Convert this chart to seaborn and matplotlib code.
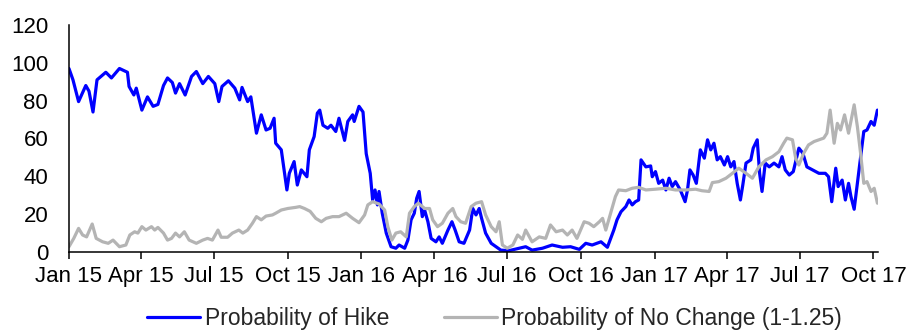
import matplotlib
matplotlib.use('Agg')
import matplotlib.pyplot as plt
import matplotlib.dates as mdates
import seaborn as sns
import pandas as pd

# Probability of Hike (blue)
hike_dates = [
    "2015-01-01", "2015-01-06", "2015-01-13", "2015-01-22", "2015-01-26", "2015-01-31",
    "2015-02-05", "2015-02-16", "2015-02-23", "2015-03-05", "2015-03-15", "2015-03-17",
    "2015-03-23", "2015-03-26", "2015-04-02", "2015-04-09", "2015-04-16", "2015-04-22",
    "2015-04-29", "2015-05-04", "2015-05-10", "2015-05-14", "2015-05-19", "2015-05-26",
    "2015-06-03", "2015-06-09", "2015-06-17", "2015-06-24", "2015-07-02", "2015-07-07",
    "2015-07-11", "2015-07-19", "2015-07-27", "2015-08-02", "2015-08-05", "2015-08-12",
    "2015-08-16", "2015-08-23", "2015-08-29", "2015-09-04", "2015-09-09", "2015-09-14",
    "2015-09-16", "2015-09-23", "2015-09-30", "2015-10-03", "2015-10-09", "2015-10-13",
    "2015-10-18", "2015-10-25", "2015-10-28", "2015-11-03", "2015-11-07", "2015-11-10",
    "2015-11-14", "2015-11-20", "2015-11-24", "2015-11-30", "2015-12-04", "2015-12-11",
    "2015-12-15", "2015-12-21", "2015-12-23", "2015-12-29", "2016-01-03", "2016-01-07",
    "2016-01-12", "2016-01-15", "2016-01-18", "2016-01-21", "2016-01-23", "2016-01-27",
    "2016-02-01", "2016-02-07", "2016-02-13", "2016-02-17", "2016-02-24", "2016-02-28",
    "2016-03-03", "2016-03-07", "2016-03-10", "2016-03-13", "2016-03-17", "2016-03-20",
    "2016-03-24", "2016-03-28", "2016-04-03", "2016-04-07", "2016-04-11", "2016-04-18",
    "2016-04-23", "2016-04-27", "2016-05-02", "2016-05-08", "2016-05-15", "2016-05-19",
    "2016-05-23", "2016-05-27", "2016-05-30", "2016-06-04", "2016-06-11", "2016-06-17",
    "2016-06-23", "2016-07-03", "2016-07-16", "2016-07-24", "2016-08-01", "2016-08-14",
    "2016-08-26", "2016-09-08", "2016-09-18", "2016-09-29", "2016-10-07", "2016-10-15",
    "2016-10-26", "2016-11-03", "2016-11-11", "2016-11-15", "2016-11-20", "2016-11-26",
    "2016-11-30", "2016-12-04", "2016-12-08", "2016-12-12", "2016-12-15", "2016-12-21",
    "2016-12-27", "2016-12-29", "2017-01-02", "2017-01-06", "2017-01-11", "2017-01-15",
    "2017-01-19", "2017-01-23", "2017-01-27", "2017-02-02", "2017-02-08", "2017-02-11",
    "2017-02-14", "2017-02-18", "2017-02-22", "2017-02-27", "2017-03-04", "2017-03-08",
    "2017-03-12", "2017-03-16", "2017-03-20", "2017-03-24", "2017-03-29", "2017-04-02",
    "2017-04-06", "2017-04-10", "2017-04-14", "2017-04-18", "2017-04-21", "2017-04-25",
    "2017-05-01", "2017-05-04", "2017-05-09", "2017-05-12", "2017-05-15", "2017-05-19",
    "2017-05-24", "2017-05-30", "2017-06-05", "2017-06-09", "2017-06-13", "2017-06-18",
    "2017-06-23", "2017-06-30", "2017-07-05", "2017-07-10", "2017-07-17", "2017-07-25",
    "2017-08-02", "2017-08-06", "2017-08-10", "2017-08-15", "2017-08-18", "2017-08-23",
    "2017-08-27", "2017-08-31", "2017-09-03", "2017-09-07", "2017-09-11", "2017-09-15",
    "2017-09-19", "2017-09-23", "2017-09-28", "2017-10-02", "2017-10-06",
]
hike_values = [
    97, 91, 79.5, 88, 85, 74,
    91, 95, 92, 97, 95, 87.5,
    83, 86.6, 75, 82, 77, 78,
    88, 92, 89.6, 84, 89, 83,
    92.8, 95.4, 89, 92.8, 89, 79.5,
    87.5, 90.5, 86.6, 80.4, 87, 79.5,
    82, 62.8, 72.5, 64.5, 65.4, 70.7,
    57.5, 54, 32.8, 41.6, 47.8, 35.4,
    43.4, 39.8, 54, 61, 73.4, 75,
    67, 65.4, 67, 63.7, 70.7, 59,
    69, 72.5, 69, 77, 74, 52,
    41.6, 27.5, 32.8, 24.9, 32, 20.5,
    10, 2.8, 2, 3.7, 2, 6.3,
    17, 20.5, 28.4, 32, 18.7, 22,
    16, 7.2, 5.4, 8, 4.6, 11.6,
    16, 11.6, 5.4, 4.6, 11.6, 23,
    19.6, 23, 17.8, 10, 4.6, 2.8,
    1, 0.7, 2, 2.8, 1, 2,
    3.7, 2.5, 2.8, 1.4, 4.6, 3.7,
    5.4, 2.5, 11.6, 17, 21.3, 24,
    27.5, 24.9, 26.6, 27.5, 48.7, 45,
    45.5, 39.8, 42.5, 36.3, 38, 32.8,
    39, 34.6, 37.2, 32.8, 26.6, 32.8,
    43.4, 40.7, 36.3, 54, 49.6, 59.3,
    54, 57.5, 48.7, 50.4, 46, 50.4,
    45, 47.8, 36.3, 27.5, 35.4, 47,
    48.7, 54.9, 59.3, 41.6, 32, 47,
    45, 47, 45, 50.4, 43.4, 40.7,
    42.5, 54.9, 52.2, 45, 43.4, 41.6,
    41.6, 39.8, 26.6, 44.3, 34.6, 38,
    27.5, 36.3, 29.3, 22.6, 36.3, 50.4,
    63.7, 64.5, 69, 67, 75,
]

# Probability of No Change (1-1.25) (grey)
nochg_dates = [
    "2015-01-01", "2015-01-07", "2015-01-13", "2015-01-18", "2015-01-23", "2015-01-30",
    "2015-02-04", "2015-02-12", "2015-02-19", "2015-02-25", "2015-03-05", "2015-03-13",
    "2015-03-18", "2015-03-24", "2015-03-28", "2015-04-02", "2015-04-07", "2015-04-14",
    "2015-04-18", "2015-04-22", "2015-04-29", "2015-05-04", "2015-05-09", "2015-05-14",
    "2015-05-19", "2015-05-25", "2015-05-31", "2015-06-09", "2015-06-17", "2015-06-23",
    "2015-06-29", "2015-07-06", "2015-07-10", "2015-07-18", "2015-07-24", "2015-08-01",
    "2015-08-06", "2015-08-12", "2015-08-18", "2015-08-23", "2015-08-29", "2015-09-04",
    "2015-09-12", "2015-09-16", "2015-09-23", "2015-10-01", "2015-10-11", "2015-10-16",
    "2015-10-22", "2015-10-29", "2015-11-05", "2015-11-12", "2015-11-18", "2015-11-26",
    "2015-12-04", "2015-12-13", "2015-12-21", "2015-12-29", "2016-01-05", "2016-01-09",
    "2016-01-15", "2016-01-23", "2016-01-30", "2016-02-03", "2016-02-08", "2016-02-13",
    "2016-02-19", "2016-02-26", "2016-03-01", "2016-03-07", "2016-03-12", "2016-03-20",
    "2016-03-26", "2016-03-30", "2016-04-05", "2016-04-11", "2016-04-18", "2016-04-24",
    "2016-04-28", "2016-05-04", "2016-05-10", "2016-05-17", "2016-05-23", "2016-05-30",
    "2016-06-04", "2016-06-11", "2016-06-17", "2016-06-21", "2016-06-25", "2016-07-01",
    "2016-07-08", "2016-07-14", "2016-07-20", "2016-07-24", "2016-08-01", "2016-08-10",
    "2016-08-18", "2016-08-24", "2016-08-31", "2016-09-08", "2016-09-14", "2016-09-20",
    "2016-09-26", "2016-10-05", "2016-10-11", "2016-10-17", "2016-10-24", "2016-10-28",
    "2016-11-01", "2016-11-07", "2016-11-13", "2016-11-17", "2016-11-26", "2016-12-04",
    "2016-12-12", "2016-12-21", "2017-01-02", "2017-01-15", "2017-01-27", "2017-02-09",
    "2017-02-21", "2017-03-01", "2017-03-10", "2017-03-14", "2017-03-22", "2017-03-31",
    "2017-04-08", "2017-04-16", "2017-04-25", "2017-05-03", "2017-05-11", "2017-05-20",
    "2017-05-28", "2017-06-05", "2017-06-11", "2017-06-15", "2017-06-22", "2017-06-26",
    "2017-06-30", "2017-07-06", "2017-07-12", "2017-07-19", "2017-07-25", "2017-07-31",
    "2017-08-04", "2017-08-08", "2017-08-13", "2017-08-17", "2017-08-21", "2017-08-26",
    "2017-08-31", "2017-09-07", "2017-09-11", "2017-09-15", "2017-09-19", "2017-09-23",
    "2017-09-28", "2017-10-02", "2017-10-06",
]
nochg_values = [
    2.8, 7.2, 12.5, 9, 8, 14.8,
    7.2, 5.4, 4.6, 6.3, 2.8, 3.7,
    9, 10.7, 10, 13.4, 11.6, 13.4,
    11.6, 13, 10, 6.3, 7.2, 10,
    8, 10.7, 6.3, 4.6, 6.3, 7.2,
    6.3, 11.6, 7.8, 7.8, 10, 11.6,
    10, 11.6, 15.2, 18.7, 17, 19,
    19.6, 20.5, 22.2, 23, 23.6, 24,
    23, 21.5, 17.8, 16, 17.8, 18.7,
    18.7, 20.5, 17.8, 15.5, 19.6, 24.9,
    26.6, 25.4, 22.2, 13.4, 6.3, 10,
    10.7, 8, 20.5, 24, 25.8, 23,
    23, 17, 13.4, 15.2, 20.5, 23,
    18.7, 16, 15.2, 24, 25.8, 26.6,
    19.6, 13.4, 10.7, 16, 3.7, 2,
    3.7, 9, 6.7, 11.6, 5.4, 8,
    7.2, 14.3, 10.7, 11.6, 9, 11.6,
    7.2, 16, 15.2, 13.4, 16, 17.8,
    11.6, 20.5, 29.3, 32.8, 32.4, 33.7,
    34.2, 32.8, 33.2, 33.7, 32.8, 32.8,
    33.2, 32.4, 32, 36.7, 37.2, 39,
    41.6, 44.3, 41.6, 39, 45, 48.7,
    50.4, 53, 57.5, 60.2, 59.3, 49.6,
    46, 52.2, 56.6, 58.4, 59.3, 60.2,
    62.8, 75, 57.5, 68, 64.5, 72.5,
    62.8, 77.8, 66.3, 52.2, 36.3, 37.2,
    32, 33.7, 25.8,
]

hike = pd.DataFrame({"date": pd.to_datetime(hike_dates), "value": hike_values})
nochg = pd.DataFrame({"date": pd.to_datetime(nochg_dates), "value": nochg_values})

sns.set_style("white")
plt.rcParams['font.family'] = ['Liberation Sans', 'DejaVu Sans']

fig = plt.figure(figsize=(9.11, 3.33), dpi=100)
ax = fig.add_axes([0.0757, 0.2432, 0.8883, 0.6818])

sns.lineplot(data=hike, x="date", y="value", ax=ax, color='#0000FF',
             linewidth=2.3, label="Probability of Hike")
sns.lineplot(data=nochg, x="date", y="value", ax=ax, color='#B4B4B4',
             linewidth=2.3, label="Probability of No Change (1-1.25)")

ax.set_ylim(0, 120)
ax.set_yticks(range(0, 121, 20))
ax.set_xlim(pd.Timestamp("2015-01-01"), pd.Timestamp("2017-10-07"))
ax.xaxis.set_major_locator(mdates.MonthLocator(bymonth=[1, 4, 7, 10]))
ax.xaxis.set_major_formatter(mdates.DateFormatter('%b %y'))
ax.set_xlabel("")
ax.set_ylabel("")

for s in ['top', 'right']:
    ax.spines[s].set_visible(False)
for s in ['left', 'bottom']:
    ax.spines[s].set_color('black')
    ax.spines[s].set_linewidth(1.1)

ax.tick_params(axis='x', length=5, width=1.1, direction='out', colors='black',
               labelsize=16, pad=5, bottom=True)
ax.tick_params(axis='y', length=0, labelsize=16, pad=15, colors='black')

ax.get_legend().remove()
handles, labels = ax.get_legend_handles_labels()
fig.legend(handles, labels, loc='lower center', bbox_to_anchor=(0.543, -0.052),
           ncol=2, frameon=False, fontsize=16.5, handlelength=2.3,
           columnspacing=2.4, handletextpad=0.2)

plt.savefig("out.png", dpi=100)
plt.close()
